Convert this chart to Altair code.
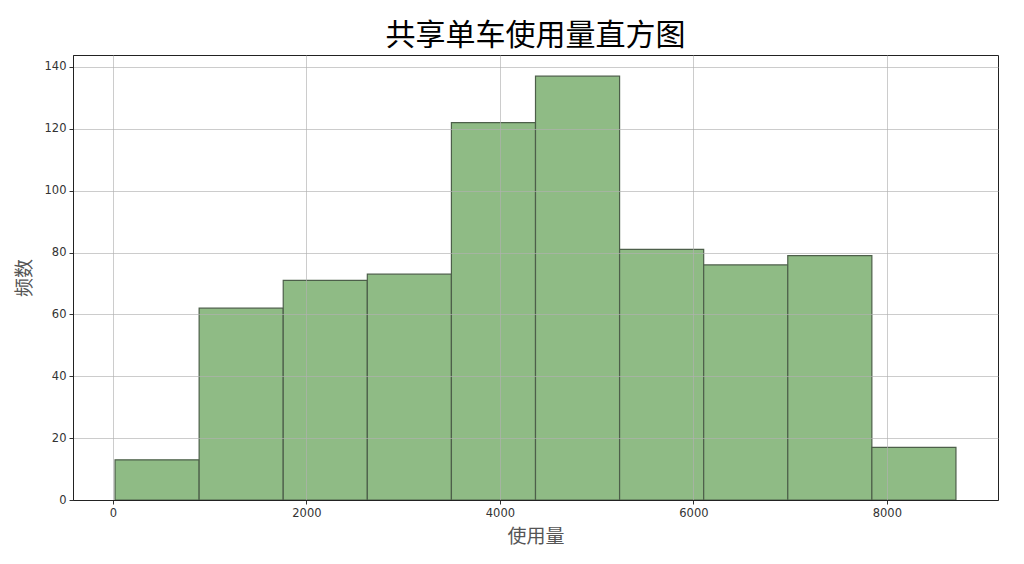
import altair as alt
import pandas as pd

counts = [13, 62, 71, 73, 122, 137, 81, 76, 79, 17]
data_min = 22
data_max = 8714
n_bins = 10
width_bin = (data_max - data_min) / n_bins
starts = [data_min + i * width_bin for i in range(n_bins)]
ends = [data_min + (i + 1) * width_bin for i in range(n_bins)]

df = pd.DataFrame({"start": starts, "end": ends, "count": counts})

span = data_max - data_min
xdom = [data_min - 0.05 * span, data_max + 0.05 * span]
ydom = [0, max(counts) * 1.05]

x_ticks = [0, 2000, 4000, 6000, 8000]
y_ticks = [0, 20, 40, 60, 80, 100, 120, 140]

bars = alt.Chart(df).mark_rect(
    color="#8fbb85", stroke="#4d5f4a", strokeWidth=1.2
).encode(
    x=alt.X("start:Q", scale=alt.Scale(domain=xdom, nice=False, zero=False),
            axis=alt.Axis(values=x_ticks, title="使用量", format="d", zindex=1)),
    x2="end:Q",
    y=alt.Y("count:Q", scale=alt.Scale(domain=ydom, nice=False),
            axis=alt.Axis(values=y_ticks, title="频数", zindex=1)),
    y2=alt.datum(0),
)

chart = bars.properties(
    width=925, height=445,
    autosize=alt.AutoSizeParams(type="none"),
    padding={"left": 65, "top": 47, "right": 12, "bottom": 55},
    title=alt.TitleParams("共享单车使用量直方图", font="Noto Sans CJK SC", fontSize=30,
                          fontWeight="normal", color="#000000", offset=4),
    background="white",
).configure_view(
    stroke="#222222", strokeWidth=1
).configure_axis(
    labelFont="DejaVu Sans", labelFontSize=11.5, labelColor="#333333",
    tickColor="#333333", tickSize=4, domainColor="#222222",
    gridColor="#b0b0b0", gridOpacity=0.65, gridWidth=1,
    titleFont="Noto Sans CJK SC", titleFontSize=19, titleFontWeight="normal",
    titleColor="#555555", labelPadding=3,
).configure_axisY(
    titlePadding=10,
).configure_axisX(
    titlePadding=9,
)

chart.save("out.html", embed_options={"renderer": "svg", "actions": False})
